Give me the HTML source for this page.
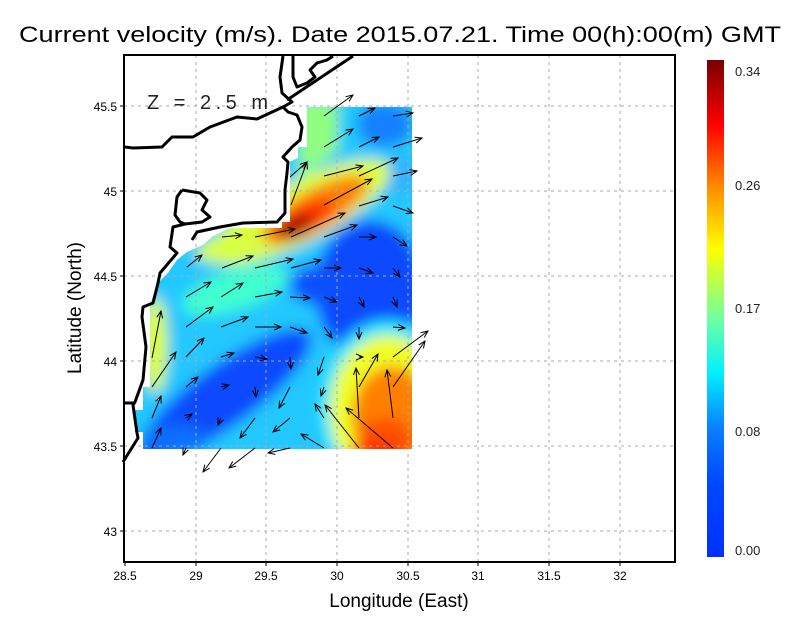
<!DOCTYPE html>
<html><head><meta charset="utf-8"><style>
html,body{margin:0;padding:0;background:#fff;}
svg{display:block;font-family:"Liberation Sans",sans-serif;}
</style></head><body>
<svg width="800" height="618" viewBox="0 0 800 618" xmlns="http://www.w3.org/2000/svg">
<defs>
<clipPath id="dc"><polygon points="307,107 412,107 412,449 143,449 143,432 135,432 135,410 143,410 143,387 150,387 150,305 158,283 168,273 177,260 187,252 203,245 212,237 230,228 282,228 282,222 290,222 290,162 298,158 298,147 307,147"/></clipPath>
<filter id="bl" x="-20%" y="-20%" width="140%" height="140%"><feGaussianBlur stdDeviation="7"/></filter>
<linearGradient id="cb" x1="0" y1="1" x2="0" y2="0">
<stop offset="0" stop-color="#0030ff"/>
<stop offset="0.15" stop-color="#0048ff"/>
<stop offset="0.26" stop-color="#0a80ff"/>
<stop offset="0.37" stop-color="#00f0ff"/>
<stop offset="0.48" stop-color="#70ffa0"/>
<stop offset="0.62" stop-color="#ffff00"/>
<stop offset="0.74" stop-color="#ff9000"/>
<stop offset="0.87" stop-color="#ff0000"/>
<stop offset="1" stop-color="#780000"/>
</linearGradient>
<marker id="ah" markerWidth="8" markerHeight="8" refX="7" refY="4" orient="auto" markerUnits="userSpaceOnUse"><path d="M0,1 L7,4 L0,7" fill="none" stroke="#000" stroke-width="1"/></marker>
</defs>
<text x="400" y="42" font-size="22" text-anchor="middle" textLength="762" lengthAdjust="spacingAndGlyphs">Current velocity (m/s). Date 2015.07.21. Time 00(h):00(m) GMT</text>

<!-- field -->
<g clip-path="url(#dc)">
<rect x="130" y="100" width="290" height="360" fill="#20c8ff"/>
<g filter="url(#bl)">
<rect x="100" y="80" width="340" height="400" fill="#20c8ff"/>
<ellipse cx="385" cy="125" rx="28" ry="22" fill="#1880ff"/>
<ellipse cx="400" cy="175" rx="15" ry="18" fill="#30b0ff"/>
<polygon points="295,100 338,100 338,150 300,180" fill="#90ff80"/>
<ellipse cx="370" cy="290" rx="55" ry="70" fill="#0848ff"/>
<ellipse cx="320" cy="285" rx="30" ry="20" fill="#0a50ff"/>
<ellipse cx="225" cy="395" rx="105" ry="30" fill="#0848ff" transform="rotate(-36 225 395)"/>
<ellipse cx="175" cy="440" rx="35" ry="15" fill="#0a70ff"/>
<ellipse cx="235" cy="290" rx="55" ry="20" fill="#40ffd0" transform="rotate(-18 235 290)"/>
<ellipse cx="300" cy="212" rx="100" ry="30" fill="#e0ff30" transform="rotate(-27 300 212)"/>
<ellipse cx="245" cy="245" rx="50" ry="16" fill="#d8ff40" transform="rotate(-10 245 245)"/>
<ellipse cx="315" cy="210" rx="60" ry="20" fill="#ff8000" transform="rotate(-30 315 210)"/>
<ellipse cx="305" cy="218" rx="32" ry="13" fill="#ff3000" transform="rotate(-28 305 218)"/>
<ellipse cx="295" cy="227" rx="20" ry="10" fill="#a00000" transform="rotate(-25 295 227)"/>
<ellipse cx="155" cy="345" rx="12" ry="48" fill="#e0ff20"/>
<ellipse cx="388" cy="408" rx="68" ry="88" fill="#20e8ff"/>
<ellipse cx="388" cy="410" rx="58" ry="75" fill="#f0ff20"/>
<ellipse cx="392" cy="418" rx="40" ry="52" fill="#ff8000"/>
<ellipse cx="385" cy="440" rx="28" ry="22" fill="#ff5000"/>
<ellipse cx="375" cy="452" rx="25" ry="8" fill="#ff1000"/>
</g>
</g>

<!-- grid -->
<g stroke="#aaa" stroke-width="1" stroke-dasharray="3,4">
<line x1="196" y1="55" x2="196" y2="562"/><line x1="266" y1="55" x2="266" y2="562"/><line x1="337" y1="55" x2="337" y2="562"/><line x1="408" y1="55" x2="408" y2="562"/><line x1="478" y1="55" x2="478" y2="562"/><line x1="549" y1="55" x2="549" y2="562"/><line x1="620" y1="55" x2="620" y2="562"/>
<line x1="124" y1="106" x2="675" y2="106"/><line x1="124" y1="191" x2="675" y2="191"/><line x1="124" y1="276" x2="675" y2="276"/><line x1="124" y1="361" x2="675" y2="361"/><line x1="124" y1="446" x2="675" y2="446"/><line x1="124" y1="531" x2="675" y2="531"/>
</g>

<!-- coast -->
<g fill="none" stroke="#000" stroke-width="3" stroke-linejoin="round">
<polyline points="283,56 280,77 282,93 292,102 283,107 288,112 297,115 302,127 300,140 292,147 283,157 288,162 287,173 285,190 285,213 277,222 243,223 220,227 197,232 192,240"/>
<polyline points="287,100 353,56"/>
<polyline points="293,56 293,77 297,87 307,83 315,77 310,70 317,63 327,60 333,56"/>
<polyline points="283,107 257,119 237,117 210,127 193,137 172,137 162,147 133,148 125,147"/>
<polyline points="182,190 200,193 207,200 202,210 210,217 202,222 185,224 173,227 170,247 177,253 160,273 158,283 153,303 143,307 142,317 146,347 143,380 135,402 133,405 137,433 138,438 123,462"/>
<polyline points="182,190 177,197 175,215 180,222 185,224"/>
<polyline points="124,403 135,403"/>
</g>

<!-- arrows -->
<g stroke="#000" stroke-width="1" marker-end="url(#ah)">
<line x1="324" y1="116" x2="353" y2="95"/><line x1="359" y1="116" x2="375" y2="108"/><line x1="393" y1="116" x2="413" y2="113"/>
<line x1="324" y1="147" x2="353" y2="129"/><line x1="359" y1="147" x2="379" y2="137"/><line x1="393" y1="147" x2="422" y2="138"/>
<line x1="290" y1="177" x2="307" y2="162"/><line x1="324" y1="176" x2="363" y2="166"/><line x1="359" y1="176" x2="398" y2="158"/><line x1="393" y1="176" x2="417" y2="171"/>
<line x1="291" y1="205" x2="307" y2="162"/><line x1="324" y1="205" x2="372" y2="179"/><line x1="359" y1="206" x2="388" y2="197"/><line x1="393" y1="206" x2="413" y2="213"/>
<line x1="222" y1="237" x2="242" y2="235"/><line x1="255" y1="237" x2="295" y2="229"/><line x1="291" y1="237" x2="345" y2="213"/><line x1="324" y1="237" x2="357" y2="225"/><line x1="359" y1="237" x2="376" y2="237"/><line x1="393" y1="237" x2="407" y2="246"/>
<line x1="187" y1="267" x2="202" y2="255"/><line x1="222" y1="268" x2="253" y2="256"/><line x1="255" y1="268" x2="293" y2="259"/><line x1="291" y1="268" x2="321" y2="260"/><line x1="324" y1="268" x2="341" y2="268"/><line x1="359" y1="268" x2="373" y2="273"/><line x1="393" y1="268" x2="400" y2="277"/>
<line x1="186" y1="297" x2="211" y2="282"/><line x1="221" y1="297" x2="243" y2="283"/><line x1="255" y1="297" x2="282" y2="292"/><line x1="290" y1="297" x2="310" y2="298"/><line x1="324" y1="297" x2="337" y2="302"/><line x1="359" y1="297" x2="364" y2="307"/><line x1="393" y1="297" x2="397" y2="307"/>
<line x1="152" y1="358" x2="161" y2="311"/>
<line x1="186" y1="327" x2="213" y2="307"/><line x1="221" y1="327" x2="248" y2="317"/><line x1="255" y1="327" x2="281" y2="327"/><line x1="290" y1="327" x2="307" y2="333"/><line x1="324" y1="327" x2="332" y2="338"/><line x1="359" y1="327" x2="359" y2="339"/><line x1="393" y1="327" x2="405" y2="328"/>
<line x1="152" y1="387" x2="176" y2="352"/>
<line x1="186" y1="357" x2="204" y2="338"/><line x1="221" y1="357" x2="234" y2="353"/><line x1="255" y1="357" x2="267" y2="359"/><line x1="290" y1="357" x2="291" y2="369"/><line x1="324" y1="357" x2="318" y2="375"/><line x1="359" y1="357" x2="363" y2="357"/><line x1="393" y1="357" x2="428" y2="331"/>
<line x1="152" y1="418" x2="161" y2="396"/>
<line x1="186" y1="387" x2="198" y2="377"/><line x1="221" y1="387" x2="229" y2="385"/><line x1="255" y1="387" x2="256" y2="397"/><line x1="290" y1="387" x2="279" y2="408"/><line x1="324" y1="387" x2="321" y2="396"/><line x1="359" y1="387" x2="378" y2="354"/><line x1="393" y1="387" x2="425" y2="341"/>
<line x1="359" y1="418" x2="356" y2="368"/><line x1="393" y1="418" x2="387" y2="370"/>
<line x1="186" y1="418" x2="192" y2="414"/><line x1="221" y1="418" x2="218" y2="425"/><line x1="255" y1="418" x2="240" y2="438"/><line x1="290" y1="418" x2="273" y2="432"/><line x1="324" y1="418" x2="315" y2="404"/>
<line x1="152" y1="448" x2="161" y2="428"/><line x1="186" y1="448" x2="183" y2="455"/><line x1="221" y1="448" x2="203" y2="472"/><line x1="255" y1="448" x2="229" y2="468"/><line x1="290" y1="448" x2="268" y2="453"/><line x1="324" y1="448" x2="301" y2="434"/><line x1="359" y1="448" x2="325" y2="405"/><line x1="393" y1="448" x2="346" y2="408"/>
</g>

<text x="147" y="109" font-size="20" fill="#222" letter-spacing="4" textLength="125" lengthAdjust="spacing">Z = 2.5 m</text>

<!-- frame -->
<rect x="124" y="55" width="551" height="507" fill="none" stroke="#000" stroke-width="2"/>
<g stroke="#000" stroke-width="1">
<line x1="120" y1="106" x2="124" y2="106"/><line x1="120" y1="191" x2="124" y2="191"/><line x1="120" y1="276" x2="124" y2="276"/><line x1="120" y1="361" x2="124" y2="361"/><line x1="120" y1="446" x2="124" y2="446"/><line x1="120" y1="531" x2="124" y2="531"/>
<line x1="125" y1="562" x2="125" y2="566"/><line x1="196" y1="562" x2="196" y2="566"/><line x1="266" y1="562" x2="266" y2="566"/><line x1="337" y1="562" x2="337" y2="566"/><line x1="408" y1="562" x2="408" y2="566"/><line x1="478" y1="562" x2="478" y2="566"/><line x1="549" y1="562" x2="549" y2="566"/><line x1="620" y1="562" x2="620" y2="566"/>
</g>
<g font-size="12" text-anchor="end">
<text x="117" y="111">45.5</text><text x="117" y="196">45</text><text x="117" y="281">44.5</text><text x="117" y="366">44</text><text x="117" y="451">43.5</text><text x="117" y="536">43</text>
</g>
<g font-size="12" text-anchor="middle">
<text x="125" y="580">28.5</text><text x="196" y="580">29</text><text x="266" y="580">29.5</text><text x="337" y="580">30</text><text x="408" y="580">30.5</text><text x="478" y="580">31</text><text x="549" y="580">31.5</text><text x="620" y="580">32</text>
</g>
<text x="399" y="607" font-size="19" text-anchor="middle">Longitude (East)</text>
<text transform="translate(81,308) rotate(-90)" font-size="19" text-anchor="middle">Latitude (North)</text>

<!-- colorbar -->
<rect x="707" y="60" width="17" height="497" fill="url(#cb)"/>
<g font-size="13" fill="#222">
<text x="735" y="76">0.34</text><text x="735" y="190">0.26</text><text x="735" y="313">0.17</text><text x="735" y="436">0.08</text><text x="735" y="555">0.00</text>
</g>
</svg>
</body></html>
